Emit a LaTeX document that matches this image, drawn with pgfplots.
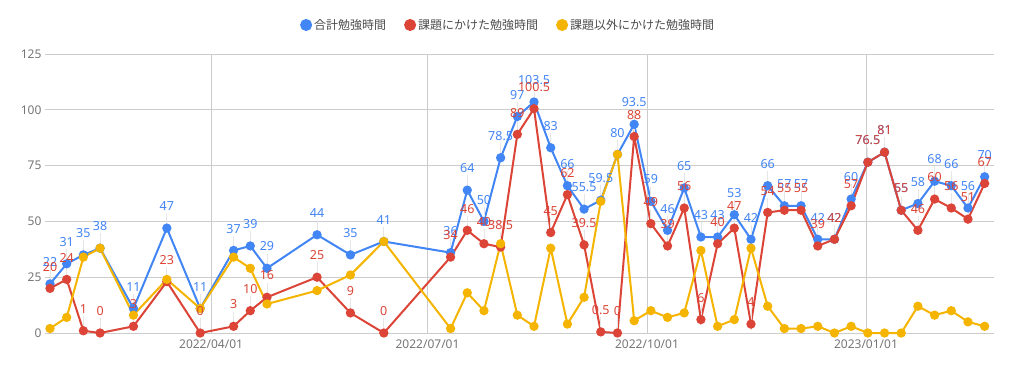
\documentclass[border=0pt]{standalone}
\usepackage{pgfplots}
\usepackage{pgfplotstable}
\pgfplotsset{compat=1.18}
\usepackage{fontspec}
\setmainfont{Noto Sans}
\newfontfamily\jp{Noto Sans CJK JP}
\definecolor{gblue}{HTML}{4285F4}
\definecolor{gred}{HTML}{DB4437}
\definecolor{gyellow}{HTML}{F4B400}
\definecolor{ggrid}{HTML}{CCCCCC}
\definecolor{gtick}{HTML}{757575}
\definecolor{gstem}{HTML}{E6E6E6}

\pgfplotstableread{
k blue red yellow
0 22 20 2
1 31 24 7
2 35 1 34
3 38 0 38
5 11 3 8
7 47 23 24
9 11 0 11
11 37 3 34
12 39 10 29
13 29 16 13
16 44 25 19
18 35 9 26
20 41 0 41
24 36 34 2
25 64 46 18
26 50 40 10
27 78.5 38.5 40
28 97 89 8
29 103.5 100.5 3
30 83 45 38
31 66 62 4
32 55.5 39.5 16
33 59.5 0.5 59
34 80 0 80
35 93.5 88 5.5
36 59 49 10
37 46 39 7
38 65 56 9
39 43 6 37
40 43 40 3
41 53 47 6
42 42 4 38
43 66 54 12
44 57 55 2
45 57 55 2
46 42 39 3
47 42 42 0
48 60 57 3
49 76.5 76.5 0
50 81 81 0
51 55 55 0
52 58 46 12
53 68 60 8
54 66 56 10
55 56 51 5
56 70 67 3
}\data

\begin{document}
\begin{tikzpicture}[x=1pt,y=1pt]
\useasboundingbox (0,0) rectangle (1009,373);
\begin{axis}[
  at={(45pt,40pt)}, anchor=south west,
  width=949pt, height=279pt, scale only axis,
  xmin=-0.3, xmax=56.56, ymin=0, ymax=125,
  clip=false,
  /pgf/number format/assume math mode=true,
  xtick={9.65,22.62,35.77,48.89},
  xticklabels={2022/04/01,2022/07/01,2022/10/01,2023/01/01},
  ytick={25,50,75,100,125},
  extra y ticks={0},
  extra y tick style={grid style={color=black!80, line width=1.3pt}},
  grid=major,
  major grid style={ggrid, line width=0.8pt},
  axis line style={draw=none},
  tick style={draw=none},
  tick label style={font=\fontsize{12}{14}\selectfont, text=gtick},
  xticklabel style={yshift=-3pt},
  legend columns=-1,
  legend style={at={(0.488,1.104)}, anchor=center, draw=none, fill=none,
    font=\jp\fontsize{12}{14}\selectfont, text=black!70,
    /tikz/every even column/.append style={column sep=16pt}},
]
\addplot[color=gblue, line width=2pt, mark=*, mark size=3.6pt,
  mark options={solid, fill=gblue},
  legend image code/.code={\fill[gblue] (3pt,0) circle (5pt);},
  error bars/.cd, y dir=plus, y fixed=6.6, error mark=none,
  error bar style={gstem, line width=0.8pt}]
  table[x=k, y=blue] {\data};
\addlegendentry{合計勉強時間}
\addplot[color=gred, line width=2pt, mark=*, mark size=3.6pt,
  mark options={solid, fill=gred},
  legend image code/.code={\fill[gred] (3pt,0) circle (5pt);},
  error bars/.cd, y dir=plus, y fixed=6.6, error mark=none,
  error bar style={gstem, line width=0.8pt}]
  table[x=k, y=red] {\data};
\addlegendentry{課題にかけた勉強時間}
\addplot[color=gyellow, line width=2pt, mark=*, mark size=3.6pt,
  mark options={solid, fill=gyellow},
  legend image code/.code={\fill[gyellow] (3pt,0) circle (5pt);}]
  table[x=k, y=yellow] {\data};
\addlegendentry{課題以外にかけた勉強時間}
\addplot[color=gblue, draw=none, mark=none, forget plot,
  nodes near coords,
  every node near coord/.append style={font=\fontsize{12.5}{14}\selectfont, text=gblue, anchor=south, yshift=16pt, inner sep=1pt}]
  table[x=k, y=blue] {\data};
\addplot[color=gred, draw=none, mark=none, forget plot,
  nodes near coords,
  every node near coord/.append style={font=\fontsize{12.5}{14}\selectfont, text=gred, anchor=south, yshift=16pt, inner sep=1pt}]
  table[x=k, y=red] {\data};
\end{axis}
\end{tikzpicture}
\end{document}
